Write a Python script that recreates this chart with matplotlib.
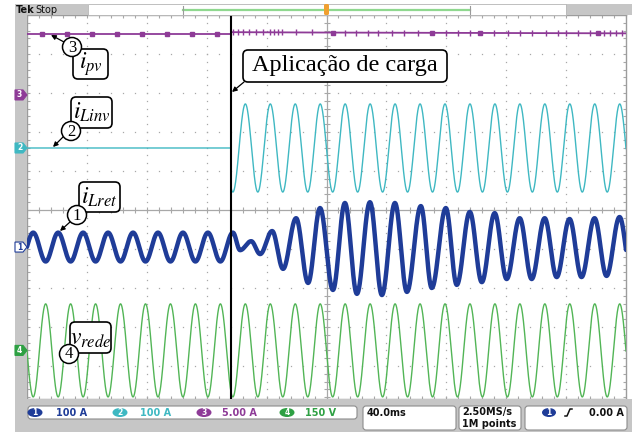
import numpy as np
import matplotlib
matplotlib.use("Agg")
import matplotlib.pyplot as plt
from matplotlib.patches import FancyBboxPatch, Ellipse, Circle, Rectangle, Polygon, FancyArrowPatch
from matplotlib.transforms import Affine2D

plt.rcParams["mathtext.fontset"] = "stix"

# ---------------- acquisition settings ----------------
TIME_PER_DIV_MS = 40.0
F_LINE_HZ = 60.0
T_LOAD_MS = -63.7          # instant the load is connected
T_GRID_PEAK_MS = -4.2      # one positive peak of the grid voltage

# channel read-out (number, scale text, units per division)
ch_numbers = ["1", "2", "3", "4"]
ch_scale_text = ["100 A", "100 A", "5.00 A", "150 V"]
ch_scale = [100.0, 100.0, 5.0, 150.0]
ch_colors = ["#1f3c98", "#3fb8c2", "#8e3b97", "#3aa845"]

# ---------------- measured signals ----------------
v_rede_peak_v = 179.0      # grid voltage amplitude
i_linv_peak_a = 113.0      # inverter inductor current after load step
i_lret_pre_peak_a = 37.0   # rectifier inductor current before load step

# i_Lret after the load step: successive extrema (time ms, current A)
i_lret_ext_t = [-62.5, -57.7, -50.3, -44.3, -36.3, -29.0, -20.3, -12.3, -4.3, 4.3,
                12.3, 20.3, 29.0, 37.0, 45.7, 53.7, 63.0, 70.3, 79.7, 87.0,
                95.7, 103.7, 112.3, 120.3, 129.0, 137.0, 145.7, 153.7, 162.3, 170.3,
                179.0, 187.0, 195.7, 203.7]
i_lret_ext_a = [37, -8, 15, -18, 41, -56, 74, -92, 100, -110,
                113, -120, 115, -123, 113, -115, 105, -105, 100, -97,
                90, -90, 87, -82, 74, -82, 74, -77, 72, -77,
                74, -74, 77, -74]

# i_pv level (A): before the step, then after it
i_pv_pre_a = 7.8
i_pv_post_t = [-63.7, 0.0, 200.0]
i_pv_post_a = [8.05, 8.0, 7.9]
i_pv_sq_pre_t = [-190.0, -173.3, -156.6, -140.0, -123.3, -106.6, -90.0, -73.3]
i_pv_sq_post_t = [4.3, 70.5, 102.5, 181.3]
i_pv_tick_t = [-62.4, -59.1, -55.8, -51.8, -47.1, -42.4, -37.7, -35.1, -32.4, -29.7,
               -20.4, -9.7, 12.4, 19.7, 27.7, 34.4, 43.7, 51.8, 61.1, 79.8,
               87.8, 95.8, 111.9, 121.2, 129.2, 137.2, 146.6, 154.6, 159.9, 167.9,
               175.9, 185.3, 189.3, 193.3, 197.3]

# ---------------- screen layout (pixels) ----------------
W, H = 632, 432
GX0, GX1, GY0, GY1 = 27, 626, 15, 399
Y_CENTER_PX, PX_PER_VDIV = 210.0, 39.0
ch_offset_div = [-0.95, 1.59, 2.95, -3.60]

fig = plt.figure(figsize=(W / 100, H / 100), dpi=100)
fig.patch.set_facecolor("white")
pix = Affine2D().scale(1, -1).translate(0, H)   # top-left pixel coordinates

ax = fig.add_axes([GX0 / W, 1 - GY1 / H, (GX1 - GX0) / W, (GY1 - GY0) / H])
xmax = 5 * TIME_PER_DIV_MS
ax.set_xlim(-xmax, xmax)
ax.set_ylim((Y_CENTER_PX - GY1) / PX_PER_VDIV, (Y_CENTER_PX - GY0) / PX_PER_VDIV)
ax.set_xticks([])
ax.set_yticks([])
for s in ax.spines.values():
    s.set_color("#9c9c9c")
    s.set_linewidth(1.0)
ylo, yhi = ax.get_ylim()

# ---------------- graticule ----------------
gcol = "#a8a8a8"
xx = np.arange(-xmax, xmax + 0.1, TIME_PER_DIV_MS / 5)
yy = np.arange(np.ceil(ylo / 0.2) * 0.2, yhi, 0.2)
for k in range(-4, 5):
    if k == 0:
        continue
    ax.plot(np.full_like(yy, k * TIME_PER_DIV_MS), yy, ls="none", marker="s",
            ms=0.9, color=gcol, mew=0)
    ax.plot(xx, np.full_like(xx, k), ls="none", marker="s", ms=0.9, color=gcol, mew=0)
ax.axhline(0, color=gcol, lw=0.9)
ax.axvline(0, color=gcol, lw=0.9)
ax.plot(xx, np.zeros_like(xx), ls="none", marker="|", ms=4, color=gcol, mew=0.8)
ax.plot(np.zeros_like(yy), yy, ls="none", marker="_", ms=4, color=gcol, mew=0.8)
for yb in (ylo, yhi):
    ax.plot(xx, np.full_like(xx, yb), ls="none", marker="|", ms=5, color=gcol, mew=0.8)
for xb in (-xmax, xmax):
    ax.plot(np.full_like(yy, xb), yy, ls="none", marker="_", ms=5, color=gcol, mew=0.8)

# ---------------- traces ----------------
t = np.linspace(-xmax, xmax, 6000)
T_line = 1000.0 / F_LINE_HZ
grid_phase = np.cos(2 * np.pi * (t - T_GRID_PEAK_MS) / T_line)


def extrema_wave(tt, te, ve):
    """Smooth half-cosine path through successive extrema."""
    out = np.full_like(tt, np.nan)
    for i in range(len(te) - 1):
        m = (tt >= te[i]) & (tt <= te[i + 1])
        s = (tt[m] - te[i]) / (te[i + 1] - te[i])
        out[m] = ve[i] + (ve[i + 1] - ve[i]) * (1 - np.cos(np.pi * s)) / 2
    return out


def to_div(ch, value):
    return ch_offset_div[ch] + np.asarray(value, dtype=float) / ch_scale[ch]


# 4: grid voltage
v_rede = v_rede_peak_v * grid_phase
ax.plot(t, to_div(3, v_rede), color="#52b556", lw=1.0, zorder=3)

# 2: inverter current (zero before the load step)
i_linv = np.where(t < T_LOAD_MS, 0.0, i_linv_peak_a * grid_phase)
ax.plot(t, to_div(1, i_linv), color=ch_colors[1], lw=1.0, zorder=3)

# 1: rectifier inductor current
i_lret = np.where(t < i_lret_ext_t[0], -i_lret_pre_peak_a * grid_phase,
                  extrema_wave(t, i_lret_ext_t, i_lret_ext_a))
ax.plot(t, to_div(0, i_lret), color=ch_colors[0], lw=3.2, zorder=4,
        solid_capstyle="round")

# 3: PV current
ax.plot([-xmax, T_LOAD_MS], to_div(2, [i_pv_pre_a, i_pv_pre_a]),
        color=ch_colors[2], lw=1.3, zorder=3)
ax.plot(i_pv_post_t, to_div(2, i_pv_post_a), color=ch_colors[2], lw=1.3, zorder=3)
ax.plot(i_pv_sq_pre_t, to_div(2, [i_pv_pre_a] * len(i_pv_sq_pre_t)),
        ls="none", marker="s", ms=2.6, color=ch_colors[2], zorder=3)
ax.plot(i_pv_sq_post_t, to_div(2, np.interp(i_pv_sq_post_t, i_pv_post_t, i_pv_post_a)),
        ls="none", marker="s", ms=2.6, color=ch_colors[2], zorder=3)
ax.plot(i_pv_tick_t, to_div(2, np.interp(i_pv_tick_t, i_pv_post_t, i_pv_post_a)),
        ls="none", marker="|", ms=4, mew=1.0, color=ch_colors[2], zorder=3)

# load connection instant
ax.axvline(T_LOAD_MS, color="black", lw=1.5, zorder=5)


# ---------------- helpers in pixel space ----------------
def px_rect(x0, y0, x1, y1, fc, ec="none", lw=0.0, z=1, rounding=0.0):
    if rounding > 0:
        p = FancyBboxPatch((x0, y0), x1 - x0, y1 - y0,
                           boxstyle=f"round,pad=0,rounding_size={rounding}",
                           fc=fc, ec=ec, lw=lw, transform=pix, zorder=z)
    else:
        p = Rectangle((x0, y0), x1 - x0, y1 - y0, fc=fc, ec=ec, lw=lw,
                      transform=pix, zorder=z)
    fig.add_artist(p)


def px_text(x, y, s, **kw):
    kw.setdefault("zorder", 12)
    fig.text(x, y, s, transform=pix, **kw)


def px_arrow(x0, y0, x1, y1):
    a = FancyArrowPatch((x0, y0), (x1, y1), transform=pix, arrowstyle="-|>",
                        mutation_scale=7, lw=0.9, color="black", zorder=11,
                        shrinkA=0, shrinkB=0)
    fig.add_artist(a)


# frame around the screen
GRAY = "#c6c6c6"
px_rect(15, 5, 27, 432, GRAY, z=0.5)
px_rect(15, 399, 632, 432, GRAY, z=0.5)
px_rect(15, 4, 88, 15, GRAY, z=0.5)
px_rect(88, 4, 566, 15, "white", ec="#b4b4b4", lw=0.6, z=0.6)
px_rect(566, 4, 632, 15, GRAY, z=0.5)
fig.add_artist(plt.Line2D([183, 470], [10, 10], transform=pix, color="#8fd88f", lw=1.6, zorder=2))
fig.add_artist(plt.Line2D([183, 183], [6, 14], transform=pix, color="#9a9a9a", lw=0.8, zorder=2))
fig.add_artist(plt.Line2D([470, 470], [6, 14], transform=pix, color="#9a9a9a", lw=0.8, zorder=2))
px_rect(324, 4, 329, 15, "#f0a030", z=3, rounding=1.5)
px_text(16, 10, "Tek", fontsize=7, fontweight="bold", va="center", ha="left", color="#111111")
px_text(35, 10, "Stop", fontsize=7, va="center", ha="left", color="#111111")

# channel ground markers on the left edge
for ch, filled in zip(range(4), [False, True, True, True]):
    yc = Y_CENTER_PX - ch_offset_div[ch] * PX_PER_VDIV
    col = ch_colors[ch] if ch != 3 else "#2ea043"
    poly = Polygon([(15, yc - 5), (23, yc - 5), (27, yc), (23, yc + 5), (15, yc + 5)],
                   closed=True, transform=pix, fc=col if filled else "white",
                   ec=col, lw=0.8, zorder=6)
    fig.add_artist(poly)
    px_text(19.5, yc, ch_numbers[ch], fontsize=5.5, fontweight="bold",
            color="white" if filled else col, ha="center", va="center")

# status bar
px_rect(28, 406, 357, 419, "white", ec="#8c8c8c", lw=0.8, z=1, rounding=3)
px_rect(363, 406, 456, 430, "white", ec="#8c8c8c", lw=0.8, z=1, rounding=3)
px_rect(459, 406, 521, 430, "white", ec="#8c8c8c", lw=0.8, z=1, rounding=3)
px_rect(525, 406, 627, 430, "white", ec="#8c8c8c", lw=0.8, z=1, rounding=3)
oval_x = [35, 120, 204, 287]
text_x = [56, 140, 222, 305]
for ch in range(4):
    col = ch_colors[ch] if ch != 3 else "#2ea043"
    fig.add_artist(Ellipse((oval_x[ch], 412.5), 15, 9, transform=pix, fc=col, ec="none", zorder=6))
    px_text(oval_x[ch], 412.5, ch_numbers[ch], fontsize=5.5, fontweight="bold",
            color="white", ha="center", va="center")
    px_text(text_x[ch], 412.5, ch_scale_text[ch], fontsize=7, fontweight="bold",
            color=col, ha="left", va="center")
px_text(367, 412.5, f"{TIME_PER_DIV_MS:.1f}ms", fontsize=7, fontweight="bold",
        color="#111111", ha="left", va="center")
px_text(462, 412.5, "2.50MS/s", fontsize=7, fontweight="bold", color="#111111",
        ha="left", va="center")
px_text(462, 424, "1M points", fontsize=7, fontweight="bold", color="#111111",
        ha="left", va="center")
fig.add_artist(Ellipse((549, 412.5), 14, 9, transform=pix, fc=ch_colors[0], ec="none", zorder=6))
px_text(549, 412.5, "1", fontsize=5.5, fontweight="bold", color="white", ha="center", va="center")
fig.add_artist(plt.Line2D([565, 567, 570, 572], [416, 416, 409, 409], transform=pix,
                          color="#111111", lw=1.1, zorder=6))
px_text(624, 412.5, "0.00 A", fontsize=7, fontweight="bold", color="#111111",
        ha="right", va="center")


# ---------------- annotations ----------------
def label_box(x0, y0, x1, y1, s=None, size=17, family=None):
    px_rect(x0, y0, x1, y1, "white", ec="black", lw=1.2, z=10, rounding=5)
    if s:
        kw = {"family": family} if family else {}
        px_text((x0 + x1) / 2, (y0 + y1) / 2, s, fontsize=size, ha="center",
                va="center", zorder=12, **kw)


def number_circle(cx, cy, s):
    fig.add_artist(Circle((cx, cy), 9.5, transform=pix, fc="white", ec="black",
                          lw=1.1, zorder=13))
    px_text(cx, cy + 0.5, s, fontsize=12, family="Liberation Serif", ha="center",
            va="center", zorder=14)


label_box(243, 50, 447, 82, "Aplicação de carga", size=17.5, family="Liberation Serif")
px_arrow(244, 82, 232, 92)

label_box(73, 49, 108, 79, r"$i_{pv}$")
px_arrow(64, 42, 51, 35)
number_circle(72, 47, "3")

label_box(71, 97, 112, 128, r"$i_{Linv}$")
px_arrow(63, 137, 53, 147)
number_circle(71, 131, "2")

label_box(79, 182, 120, 212, r"$i_{Lret}$")
px_arrow(70, 222, 60, 231)
number_circle(77, 215, "1")

label_box(70, 322, 111, 353, r"$v_{rede}$")
number_circle(69, 354, "4")

fig.savefig("out.png", dpi=100, facecolor="white")
